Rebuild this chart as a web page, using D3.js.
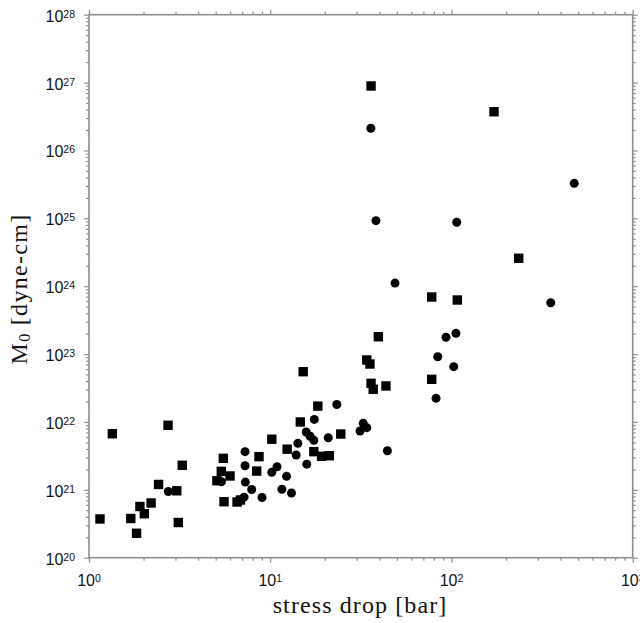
<!DOCTYPE html>
<html>
<head>
<meta charset="utf-8">
<script src="https://cdn.jsdelivr.net/npm/d3@7"></script>
<style>
html,body{margin:0;padding:0;background:#fff;}
svg{display:block;}
</style>
</head>
<body>
<svg id="chart" width="640" height="623"></svg>
<script>
// ---- data (stress drop [bar], M0 [dyne-cm]) ----
const squareStress = [1.15, 1.345, 1.70, 1.83, 1.91, 2.02, 2.20, 2.42, 2.73, 3.05, 3.11, 3.27,
  5.08, 5.37, 5.51, 6.00, 5.56, 6.56, 6.85, 8.42, 8.67, 10.2, 12.4, 14.65, 15.2, 18.3,
  17.4, 19.2, 21.2, 24.5, 34.1, 35.5, 36.0, 37.0, 39.5, 43.5, 36.0, 77.8, 107.7, 77.8, 171.7, 235];
const squareMoment = [3.72e20, 6.71e21, 3.78e20, 2.29e20, 5.68e20, 4.45e20, 6.40e20, 1.20e21, 8.93e21,
  9.68e20, 3.30e20, 2.30e21, 1.36e21, 1.87e21, 2.91e21, 1.60e21, 6.68e20, 6.62e20, 7.08e20,
  1.89e21, 3.08e21, 5.57e21, 3.97e21, 1.00e22, 5.50e22, 1.71e22, 3.65e21, 3.12e21, 3.18e21,
  6.64e21, 8.18e22, 7.14e22, 3.71e22, 3.03e22, 1.80e23, 3.39e22, 8.91e26, 6.93e23, 6.26e23,
  4.25e22, 3.72e26, 2.58e24];
const circleStress = [2.74, 5.38, 7.26, 7.26, 7.29, 7.90, 7.17, 9.01, 10.2, 10.9, 11.6, 12.3, 13.1,
  13.9, 14.2, 15.8, 16.6, 17.4, 17.5, 15.9, 20.9, 23.3, 31.3, 32.6, 34.1, 44.3, 35.9, 38.3,
  106.9, 48.8, 93.3, 105.9, 84.0, 102.9, 82.2, 476, 353];
const circleMoment = [9.45e20, 1.32e21, 3.65e21, 2.26e21, 1.30e21, 1.01e21, 7.79e20, 7.71e20, 1.81e21,
  2.19e21, 1.02e21, 1.58e21, 8.98e20, 3.26e21, 4.84e21, 7.11e21, 6.15e21, 5.37e21, 1.09e22,
  2.39e21, 5.86e21, 1.81e22, 7.36e21, 9.55e21, 8.23e21, 3.77e21, 2.12e26, 9.23e24, 8.74e24,
  1.11e24, 1.77e23, 2.02e23, 9.15e22, 6.52e22, 2.23e22, 3.28e25, 5.71e23];
const xExponents = [0, 1, 2, 3];
const yExponents = [20, 21, 22, 23, 24, 25, 26, 27, 28];
const xTitle = "stress drop [bar]";
const yTitleMain = "M";
const yTitleSub = "0";
const yTitleRest = " [dyne-cm]";

// ---- layout ----
const L = 89, R = 632.7, T = 14.7, B = 557.7;
const svg = d3.select("#chart");
const x = d3.scaleLog().domain([1, 1000]).range([L, R]);
const y = d3.scaleLog().domain([1e20, 1e28]).range([B, T]);

const axisColor = "#8e8e8e";
const isMajor = v => Math.abs(Math.log10(v) - Math.round(Math.log10(v))) < 1e-9;

function styleAxis(g) {
  g.select(".domain").remove();
  g.selectAll(".tick line").attr("stroke", axisColor).attr("stroke-width", 1.2);
  g.selectAll(".tick text").remove();
}
function setLengths(g, dirSign, horizontal) {
  g.selectAll(".tick line").each(function(d) {
    const len = isMajor(d) ? 5 : 3;
    if (horizontal) d3.select(this).attr("y2", dirSign * len).attr("x2", 0);
    else d3.select(this).attr("x2", dirSign * len).attr("y2", 0);
  });
}

const xt = x.ticks();
const yt = y.ticks();

const gB = svg.append("g").attr("transform", `translate(0,${B})`).call(d3.axisBottom(x).tickValues(xt).tickFormat(""));
styleAxis(gB); setLengths(gB, 1, true);
const gT = svg.append("g").attr("transform", `translate(0,${T})`).call(d3.axisTop(x).tickValues(xt).tickFormat(""));
styleAxis(gT); setLengths(gT, -1, true);
const gL = svg.append("g").attr("transform", `translate(${L},0)`).call(d3.axisLeft(y).tickValues(yt).tickFormat(""));
styleAxis(gL); setLengths(gL, -1, false);
const gR = svg.append("g").attr("transform", `translate(${R},0)`).call(d3.axisRight(y).tickValues(yt).tickFormat(""));
styleAxis(gR); setLengths(gR, 1, false);

// frame
svg.append("rect").attr("x", L).attr("y", T).attr("width", R - L).attr("height", B - T)
  .attr("fill", "none").attr("stroke", axisColor).attr("stroke-width", 1.6);

// tick labels
const labFont = "'Liberation Sans', Arial, Helvetica, sans-serif";
function powLabel(sel, e) {
  sel.append("tspan").text("10");
  sel.append("tspan").attr("dy", -4).attr("font-size", 10.5).text(String(e));
}
xExponents.forEach(e => {
  const t = svg.append("text").attr("x", x(Math.pow(10, e))).attr("y", B + 28.5)
    .attr("text-anchor", "middle").attr("font-family", labFont).attr("font-size", 16)
    .attr("fill", "#111");
  powLabel(t, e);
});
yExponents.forEach(e => {
  const t = svg.append("text").attr("x", 75).attr("y", y(Math.pow(10, e)) + 7)
    .attr("text-anchor", "end").attr("font-family", labFont).attr("font-size", 16)
    .attr("fill", "#111");
  powLabel(t, e);
});

// axis titles
const serif = "'Liberation Serif', 'Times New Roman', serif";
svg.append("text").attr("x", 360).attr("y", 613)
  .attr("text-anchor", "middle").attr("font-family", serif).attr("font-size", 24)
  .attr("letter-spacing", 1.1).attr("fill", "#111").text(xTitle);

const yt2 = svg.append("text").attr("transform", "translate(26.5,289) rotate(-90)")
  .attr("text-anchor", "middle").attr("font-family", serif).attr("font-size", 24)
  .attr("letter-spacing", 1.3).attr("fill", "#111");
yt2.append("tspan").text(yTitleMain);
yt2.append("tspan").attr("font-size", 16).attr("dy", 3).text(yTitleSub);
yt2.append("tspan").attr("dy", -3).text(yTitleRest);

// points
const sq = 9.4;
const squares = squareStress.map((s, i) => ({s, m: squareMoment[i]}));
const circles = circleStress.map((s, i) => ({s, m: circleMoment[i]}));
svg.append("g").selectAll("rect").data(squares).join("rect")
  .attr("x", d => x(d.s) - sq / 2).attr("y", d => y(d.m) - sq / 2)
  .attr("width", sq).attr("height", sq).attr("fill", "#000");
svg.append("g").selectAll("circle").data(circles).join("circle")
  .attr("cx", d => x(d.s)).attr("cy", d => y(d.m)).attr("r", 4.5).attr("fill", "#000");
</script>
</body>
</html>
